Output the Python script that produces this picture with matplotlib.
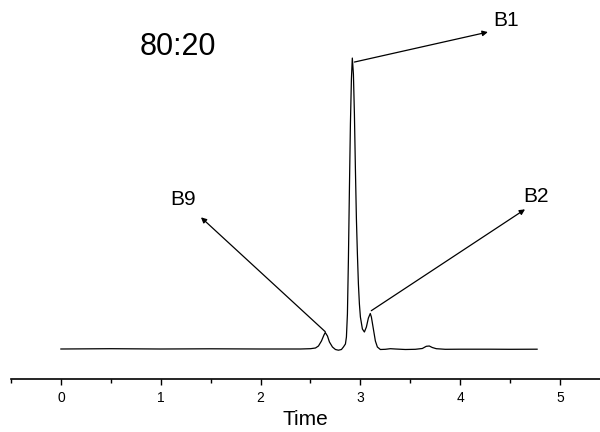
import numpy as np
import matplotlib.pyplot as plt
from matplotlib.ticker import MultipleLocator

plt.rcParams['font.family'] = ['Liberation Sans', 'DejaVu Sans']

# chromatogram trace, detector signal relative to baseline
time = [0.0, 0.5, 1.0, 1.5, 2.0, 2.4, 2.5, 2.55, 2.58, 2.61, 2.635, 2.648,
        2.67, 2.69, 2.72, 2.75, 2.78, 2.81, 2.83, 2.85, 2.86, 2.87, 2.88,
        2.89, 2.90, 2.91, 2.919, 2.93, 2.94, 2.95, 2.96, 2.97, 2.98, 2.99,
        3.00, 3.02, 3.04, 3.06, 3.08, 3.099, 3.11, 3.13, 3.15, 3.17, 3.20,
        3.25, 3.30, 3.35, 3.45, 3.55, 3.62, 3.66, 3.69, 3.72, 3.76, 3.85,
        4.0, 4.3, 4.5, 4.77]
signal = [0, 0.3, 0, 0.2, 0, 0, 0.3, 1, 3, 8, 14, 16.5,
          13, 7, 2, -0.5, -1.2, -0.5, 2, 5, 12, 35, 90,
          160, 225, 270, 291, 275, 235, 180, 130, 95, 65, 45,
          32, 20, 17, 22, 31, 35.5, 32, 20, 8, 2, -0.5,
          -0.3, 0.3, 0, -0.5, -0.3, 0.5, 2.7, 3, 1.5, 0.3, -0.3,
          -0.2, -0.2, -0.3, -0.2]

ratio_label = '80:20'
peak_names = ['B1', 'B9', 'B2']
peak_xy = [(2.94, 287), (2.648, 17.3), (3.109, 38.3)]
arrow_tips = [(4.277, 317), (1.403, 131.7), (4.649, 139.7)]
text_xy = [(4.327, 329), (1.094, 149.5), (4.628, 153)]

fig = plt.figure(figsize=(6, 4.32), dpi=100)
ax = fig.add_axes([0.0183, 0.1227, 0.9817, 0.854])

ax.plot(time, signal, color='black', lw=0.9)

for name, xy, tip, txt in zip(peak_names, peak_xy, arrow_tips, text_xy):
    ax.annotate('', xy=tip, xytext=xy,
                arrowprops=dict(arrowstyle='-|>', color='black', lw=0.9,
                                mutation_scale=8, shrinkA=0, shrinkB=0))
    ax.text(txt[0], txt[1], name, fontsize=15, ha='left', va='center')

ax.text(0.79, 302, ratio_label, fontsize=22, ha='left', va='center')

ax.set_xlim(-0.5, 5.4)
ax.set_ylim(-30, 339)
ax.xaxis.set_major_locator(MultipleLocator(1))
ax.xaxis.set_minor_locator(MultipleLocator(0.5))
ax.tick_params(axis='x', which='major', direction='out', length=4.5, width=1, labelsize=10, pad=4)
ax.tick_params(axis='x', which='minor', direction='out', length=3, width=1)
ax.set_yticks([])
for side in ['left', 'right', 'top']:
    ax.spines[side].set_visible(False)
ax.spines['bottom'].set_linewidth(1.2)
ax.set_xlabel('Time', fontsize=15, labelpad=4)

fig.savefig('out.png', dpi=100)
